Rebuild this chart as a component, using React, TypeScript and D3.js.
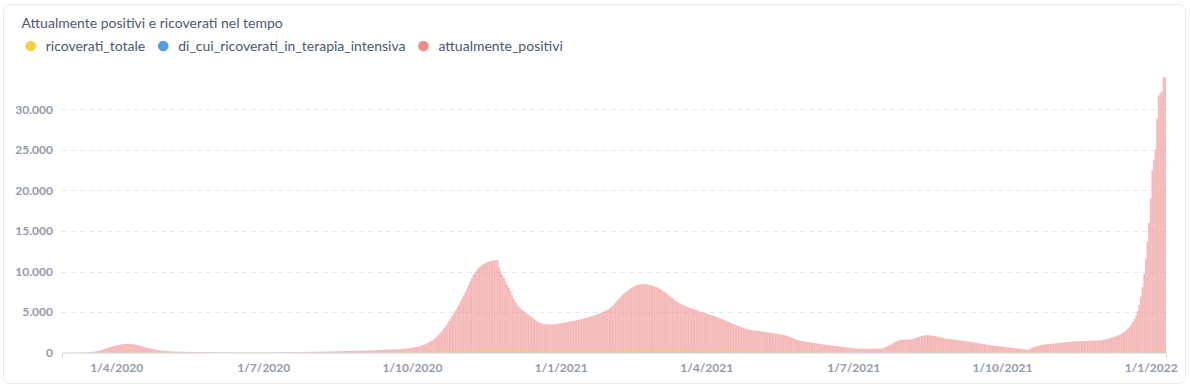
import { useEffect, useRef } from "react"
import * as d3 from "d3"

// daily series, starting on this date
const firstDay = "2020-02-28"

const positivi2020 = [
  1, 1,
  1, 1, 2, 3, 5, 8, 10, 14, 18, 24, 30, 38, 46, 55, 66, 78, 92, 110, 130, 170, 220, 280, 340, 400, 470, 540, 610, 680, 740, 800, 850,
  900, 940, 980, 1010, 1040, 1060, 1075, 1085, 1090, 1080, 1060, 1030, 990, 950, 900, 850, 790, 730, 680, 620, 570, 520, 470, 420, 380, 340, 310, 280, 255, 235,
  220, 210, 195, 185, 170, 160, 150, 140, 135, 128, 120, 115, 110, 105, 100, 98, 95, 92, 90, 88, 85, 82, 80, 78, 75, 72, 70, 68, 66, 64, 62,
  60, 58, 57, 55, 54, 52, 50, 49, 48, 47, 46, 45, 44, 43, 42, 42, 41, 40, 40, 40, 39, 39, 38, 38, 38, 37, 37, 37, 36, 36,
  36, 37, 38, 40, 42, 45, 48, 50, 52, 55, 58, 60, 62, 65, 68, 70, 72, 75, 78, 80, 82, 85, 88, 90, 92, 95, 98, 100, 102, 105, 108,
  110, 112, 115, 118, 120, 124, 131, 135, 139, 146, 150, 154, 161, 165, 170, 174, 181, 185, 190, 196, 200, 204, 211, 215, 220, 226, 230, 234, 241, 245, 250,
  255, 260, 265, 270, 275, 285, 295, 305, 315, 325, 335, 345, 355, 365, 370, 375, 380, 385, 390, 400, 410, 420, 430, 440, 455, 470, 490, 510, 540, 570,
  600, 640, 680, 720, 760, 820, 880, 950, 1030, 1120, 1220, 1330, 1450, 1580, 1730, 1900, 2100, 2320, 2550, 2800, 3050, 3320, 3600, 3900, 4200, 4520, 4850, 5200, 5550, 5900, 6280,
  6660, 7050, 7450, 7900, 8350, 8800, 9200, 9600, 9900, 10150, 10400, 10600, 10750, 10900, 11000, 11100, 11180, 11250, 11300, 11340, 11370, 11400, 11420, 10500, 10000, 9600, 9200, 8800, 8400, 8000,
  7600, 7100, 6600, 6250, 5950, 5700, 5500, 5300, 5150, 5000, 4850, 4700, 4550, 4400, 4250, 4100, 3950, 3800, 3700, 3620, 3560, 3520, 3490, 3470, 3460, 3460, 3480, 3500, 3530, 3560, 3590,
]

const positivi2021 = [
  3610, 3640, 3680, 3720, 3760, 3800, 3840, 3880, 3920, 3960, 4000, 4040, 4090, 4140, 4190, 4240, 4300, 4360, 4420, 4480, 4540, 4600, 4660, 4740, 4830, 4920, 5010, 5100, 5200, 5300, 5420,
  5580, 5760, 5950, 6150, 6380, 6620, 6850, 7060, 7250, 7420, 7580, 7740, 7880, 8000, 8110, 8230, 8320, 8380, 8420, 8440, 8450, 8440, 8420, 8390, 8350, 8300, 8240, 8170,
  8110, 8020, 7920, 7800, 7680, 7550, 7420, 7250, 7080, 6900, 6730, 6560, 6400, 6270, 6150, 6040, 5950, 5860, 5770, 5680, 5600, 5520, 5450, 5380, 5310, 5240, 5170, 5100, 5030, 4960, 4900,
  4840, 4780, 4710, 4640, 4570, 4500, 4430, 4360, 4290, 4210, 4130, 4050, 3960, 3870, 3780, 3700, 3620, 3540, 3460, 3380, 3300, 3220, 3140, 3060, 2990, 2930, 2880, 2840, 2800, 2770,
  2740, 2710, 2680, 2650, 2620, 2590, 2560, 2540, 2510, 2480, 2450, 2420, 2390, 2360, 2330, 2300, 2260, 2220, 2180, 2130, 2070, 2000, 1920, 1840, 1760, 1680, 1600, 1530, 1480, 1440, 1400,
  1370, 1340, 1310, 1280, 1250, 1220, 1190, 1160, 1130, 1100, 1070, 1040, 1010, 980, 950, 920, 895, 870, 845, 820, 795, 770, 745, 720, 695, 670, 645, 620, 600, 580,
  560, 540, 520, 505, 495, 490, 485, 480, 478, 476, 475, 475, 476, 478, 480, 485, 490, 510, 550, 610, 690, 770, 870, 980, 1100, 1220, 1330, 1420, 1500, 1560, 1590,
  1600, 1600, 1610, 1620, 1640, 1660, 1700, 1760, 1830, 1900, 1970, 2040, 2090, 2120, 2140, 2150, 2150, 2140, 2120, 2090, 2050, 2000, 1950, 1900, 1850, 1800, 1750, 1710, 1680, 1650, 1630,
  1610, 1590, 1570, 1550, 1530, 1500, 1470, 1440, 1420, 1390, 1360, 1330, 1300, 1260, 1220, 1180, 1140, 1110, 1080, 1050, 1010, 980, 950, 920, 890, 860, 840, 820, 800, 780,
  750, 720, 690, 670, 650, 630, 610, 590, 570, 545, 520, 495, 470, 440, 410, 380, 370, 420, 530, 640, 720, 780, 840, 890, 930, 970, 1000, 1030, 1050, 1070, 1090,
  1100, 1120, 1150, 1180, 1200, 1220, 1240, 1260, 1280, 1300, 1320, 1340, 1360, 1380, 1390, 1400, 1410, 1420, 1430, 1440, 1450, 1460, 1470, 1475, 1480, 1485, 1490, 1495, 1500, 1510,
  1520, 1550, 1590, 1630, 1680, 1730, 1790, 1850, 1910, 1980, 2050, 2130, 2220, 2330, 2460, 2610, 2800, 3000, 3230, 3480, 3780, 4150, 4600, 5150, 5900, 6900, 8100, 9700, 11600, 13700, 16000,
]

const positivi2022 = [19000, 22500, 23800, 25000, 28900, 31700, 32000, 32200, 34000, 33900]

const ricoverati2020 = [
  0, 0,
  0, 0, 0, 0, 1, 1, 2, 3, 4, 5, 6, 8, 10, 13, 16, 20, 25, 30, 38, 46, 55, 65, 75, 85, 95, 105, 115, 125, 135, 145, 155,
  162, 168, 172, 175, 177, 178, 178, 177, 175, 172, 168, 164, 160, 155, 150, 145, 140, 135, 130, 125, 120, 115, 110, 106, 102, 98, 94, 90, 87, 84,
  81, 78, 75, 72, 69, 66, 63, 60, 58, 56, 54, 52, 50, 48, 46, 44, 42, 40, 38, 37, 36, 35, 34, 33, 32, 31, 30, 29, 28, 27, 26,
  25, 24, 23, 22, 21, 20, 19, 18, 17, 16, 15, 15, 14, 14, 13, 13, 12, 12, 12, 11, 11, 11, 10, 10, 10, 10, 10, 10, 10, 10,
  10, 10, 11, 11, 11, 12, 12, 12, 13, 13, 13, 14, 14, 14, 15, 15, 15, 16, 16, 16, 17, 17, 17, 18, 18, 18, 19, 19, 20, 20, 21,
  21, 22, 22, 23, 23, 24, 24, 25, 25, 26, 27, 28, 29, 30, 31, 32, 33, 34, 35, 36, 37, 38, 39, 40, 41, 42, 43, 44, 45, 46, 47,
  48, 49, 50, 51, 52, 53, 54, 55, 56, 57, 58, 59, 60, 61, 62, 63, 64, 65, 66, 67, 68, 69, 70, 71, 72, 73, 74, 75, 76, 78,
  80, 83, 86, 89, 92, 95, 99, 103, 107, 111, 116, 121, 126, 131, 137, 143, 149, 155, 162, 169, 176, 183, 190, 198, 206, 214, 222, 230, 238, 246, 254,
  262, 270, 278, 286, 294, 302, 310, 318, 325, 332, 339, 346, 352, 358, 364, 369, 374, 378, 382, 385, 388, 390, 392, 393, 393, 392, 390, 388, 385, 382,
  378, 374, 370, 366, 362, 358, 354, 350, 346, 342, 338, 334, 330, 326, 322, 318, 314, 310, 307, 304, 301, 298, 296, 294, 292, 290, 289, 288, 287, 286, 286,
]

const ricoverati2021 = [
  286, 287, 288, 289, 290, 291, 292, 293, 294, 295, 296, 297, 298, 299, 300, 301, 302, 303, 304, 305, 306, 307, 308, 309, 310, 311, 312, 313, 314, 315, 316,
  318, 320, 322, 324, 326, 328, 330, 332, 334, 336, 338, 340, 342, 344, 346, 348, 350, 352, 354, 356, 358, 360, 361, 362, 363, 364, 365, 366,
  367, 368, 369, 370, 370, 370, 370, 369, 368, 367, 366, 365, 364, 362, 360, 358, 356, 354, 352, 350, 348, 346, 344, 342, 340, 338, 336, 334, 332, 330, 328,
  325, 322, 319, 316, 313, 310, 307, 304, 301, 298, 295, 292, 289, 286, 283, 280, 277, 274, 271, 268, 265, 262, 259, 256, 253, 250, 247, 244, 241, 238,
  235, 232, 229, 226, 223, 220, 217, 214, 211, 208, 205, 202, 199, 196, 193, 190, 187, 184, 181, 178, 175, 172, 169, 166, 163, 160, 157, 154, 151, 148, 145,
  142, 139, 136, 133, 130, 127, 124, 121, 118, 115, 112, 109, 106, 103, 100, 97, 94, 91, 88, 85, 82, 79, 76, 73, 70, 68, 66, 64, 62, 60,
  58, 56, 55, 54, 53, 52, 51, 50, 50, 50, 50, 50, 51, 52, 53, 54, 55, 57, 59, 62, 65, 69, 73, 78, 83, 88, 94, 100, 106, 112, 118,
  124, 130, 136, 142, 148, 154, 160, 166, 172, 178, 184, 190, 195, 200, 204, 208, 211, 214, 216, 218, 219, 220, 220, 219, 218, 216, 214, 212, 210, 208, 206,
  204, 202, 200, 198, 196, 194, 192, 190, 188, 186, 184, 182, 180, 178, 176, 174, 172, 170, 168, 166, 164, 162, 160, 158, 156, 154, 152, 150, 148, 146,
  144, 142, 140, 138, 136, 134, 132, 130, 128, 126, 124, 122, 120, 118, 116, 114, 112, 110, 108, 106, 104, 102, 100, 99, 98, 97, 96, 95, 94, 93, 92,
  92, 92, 93, 93, 94, 95, 96, 97, 98, 99, 100, 101, 102, 103, 104, 105, 106, 107, 108, 109, 110, 111, 112, 113, 114, 115, 116, 117, 118, 119,
  120, 121, 122, 123, 124, 125, 126, 127, 128, 130, 132, 134, 136, 138, 140, 143, 146, 149, 152, 156, 160, 165, 170, 176, 182, 189, 196, 204, 212, 221, 230,
]

const ricoverati2022 = [240, 250, 261, 272, 283, 294, 305, 316, 327, 338]

const intensiva2020 = [
  0, 0,
  0, 0, 0, 0, 0, 0, 0, 1, 1, 1, 2, 2, 3, 3, 4, 5, 6, 7, 8, 9, 10, 11, 12, 13, 14, 15, 16, 17, 18, 19, 19,
  20, 20, 20, 19, 19, 19, 18, 18, 17, 17, 16, 16, 15, 15, 14, 14, 13, 13, 12, 12, 11, 11, 10, 10, 9, 9, 8, 8, 7, 7,
  7, 6, 6, 6, 5, 5, 5, 5, 4, 4, 4, 4, 3, 3, 3, 3, 3, 2, 2, 2, 2, 2, 2, 2, 1, 1, 1, 1, 1, 1, 1,
  1, 1, 1, 1, 1, 1, 1, 1, 1, 1, 1, 1, 1, 1, 1, 0, 0, 0, 0, 0, 0, 0, 0, 0, 0, 0, 0, 0, 0, 0,
  0, 0, 0, 0, 0, 0, 0, 0, 0, 0, 1, 1, 1, 1, 1, 1, 1, 1, 1, 1, 1, 1, 1, 1, 1, 1, 1, 1, 1, 1, 1,
  1, 1, 1, 1, 1, 1, 1, 1, 1, 1, 2, 2, 2, 2, 2, 2, 2, 2, 2, 2, 3, 3, 3, 3, 3, 3, 3, 3, 3, 3, 3,
  3, 3, 3, 3, 4, 4, 4, 4, 4, 4, 4, 5, 5, 5, 5, 5, 5, 5, 5, 6, 6, 6, 6, 6, 6, 6, 6, 7, 7, 7,
  7, 7, 8, 8, 8, 9, 9, 9, 10, 10, 11, 11, 12, 12, 13, 13, 14, 14, 15, 16, 17, 18, 19, 20, 21, 22, 23, 24, 25, 26, 27,
  28, 29, 30, 31, 32, 33, 34, 35, 36, 37, 38, 39, 40, 40, 41, 41, 42, 42, 42, 42, 42, 42, 41, 41, 40, 40, 39, 39, 38, 38,
  37, 37, 36, 36, 35, 35, 34, 34, 33, 33, 32, 32, 31, 31, 31, 30, 30, 30, 29, 29, 29, 28, 28, 28, 28, 27, 27, 27, 27, 27, 27,
]

const intensiva2021 = [
  27, 27, 27, 27, 27, 27, 27, 27, 26, 26, 26, 26, 26, 26, 26, 26, 26, 26, 26, 26, 26, 26, 26, 26, 26, 27, 27, 27, 27, 27, 28,
  28, 28, 29, 29, 29, 30, 30, 30, 31, 31, 31, 32, 32, 32, 33, 33, 33, 34, 34, 34, 35, 35, 35, 35, 36, 36, 36, 36,
  37, 37, 37, 37, 37, 38, 38, 38, 38, 38, 38, 38, 38, 38, 38, 38, 38, 38, 38, 37, 37, 37, 37, 37, 37, 36, 36, 36, 36, 36, 35,
  35, 35, 35, 34, 34, 34, 34, 33, 33, 33, 33, 32, 32, 32, 32, 31, 31, 31, 31, 30, 30, 30, 30, 29, 29, 29, 29, 28, 28, 28,
  28, 27, 27, 27, 27, 26, 26, 26, 26, 25, 25, 25, 25, 24, 24, 24, 24, 23, 23, 23, 23, 22, 22, 22, 22, 21, 21, 21, 21, 20, 20,
  20, 19, 19, 18, 18, 17, 17, 16, 16, 15, 15, 14, 14, 13, 13, 12, 12, 12, 11, 11, 11, 10, 10, 10, 9, 9, 9, 8, 8, 8,
  8, 8, 7, 7, 7, 7, 7, 6, 6, 6, 6, 6, 6, 6, 6, 6, 6, 7, 7, 7, 7, 8, 8, 8, 9, 9, 10, 10, 11, 11, 12,
  12, 13, 13, 14, 14, 15, 15, 16, 16, 17, 17, 18, 18, 19, 19, 20, 20, 20, 21, 21, 21, 21, 22, 22, 22, 22, 22, 22, 22, 21, 21,
  21, 21, 21, 21, 20, 20, 20, 20, 20, 19, 19, 19, 19, 19, 18, 18, 18, 18, 17, 17, 17, 17, 16, 16, 16, 16, 15, 15, 15, 15,
  14, 14, 14, 14, 13, 13, 13, 13, 12, 12, 12, 12, 11, 11, 11, 11, 10, 10, 10, 10, 9, 9, 9, 9, 9, 9, 9, 9, 9, 9, 9,
  9, 9, 9, 9, 9, 9, 10, 10, 10, 10, 10, 10, 10, 10, 11, 11, 11, 11, 11, 11, 11, 11, 12, 12, 12, 12, 12, 12, 12, 12,
  12, 12, 13, 13, 13, 13, 13, 14, 14, 14, 14, 14, 15, 15, 15, 15, 16, 16, 16, 17, 17, 17, 18, 18, 18, 19, 19, 20, 20, 21, 21,
]

const intensiva2022 = [22, 23, 24, 25, 26, 27, 28, 29, 30, 31]

const xTickDates = ["2020-04-01", "2020-07-01", "2020-10-01", "2021-01-01", "2021-04-01", "2021-07-01", "2021-10-01", "2022-01-01"]
const yTicks = [0, 5000, 10000, 15000, 20000, 25000, 30000]

const title = "Attualmente positivi e ricoverati nel tempo"
const seriesNames = ["ricoverati_totale", "di_cui_ricoverati_in_terapia_intensiva", "attualmente_positivi"]
const seriesColors = ["#F9CF48", "#509EE3", "#EF8C8C"]

const W = 1190
const H = 388
const FONT = "Lato, 'Noto Sans', sans-serif"

export default function App() {
  const svgRef = useRef<SVGSVGElement>(null)

  useEffect(() => {
    if (!svgRef.current) return
    const root = d3.select(svgRef.current)
    root.selectAll("*").remove()

    const parse = d3.utcParse("%Y-%m-%d")
    const start = parse(firstDay) as Date
    const positivi = [...positivi2020, ...positivi2021, ...positivi2022]
    const ricoverati = [...ricoverati2020, ...ricoverati2021, ...ricoverati2022]
    const intensiva = [...intensiva2020, ...intensiva2021, ...intensiva2022]
    const days = positivi.map((_, i) => d3.utcDay.offset(start, i))

    const x = d3
      .scaleUtc()
      .domain([d3.utcHour.offset(days[0], -12), d3.utcHour.offset(days[days.length - 1], 12)])
      .range([62, 1166])
    const y = d3.scaleLinear().domain([0, 30000]).range([352.7, 109.3])

    const it = d3.formatLocale({ decimal: ",", thousands: ".", grouping: [3], currency: ["€", ""] })
    const fmtY = it.format(",d")

    // card
    root
      .append("rect")
      .attr("x", 3.5)
      .attr("y", 4.5)
      .attr("width", W - 8)
      .attr("height", H - 9)
      .attr("rx", 7)
      .attr("fill", "#fff")
      .attr("stroke", "#E8EBEE")

    // title
    root
      .append("text")
      .attr("x", 21.5)
      .attr("y", 28)
      .attr("font-family", FONT)
      .attr("font-size", 14)
      .attr("fill", "#4C5773")
      .text(title)

    // legend
    const legend = root.append("g").attr("font-family", FONT).attr("font-size", 14).attr("fill", "#4C5773")
    let cx = 30.7
    seriesNames.forEach((name, i) => {
      legend.append("circle").attr("cx", cx).attr("cy", 46).attr("r", 5.3).attr("fill", seriesColors[i])
      const t = legend
        .append("text")
        .attr("x", cx + 15)
        .attr("y", 51)
        .text(name)
      const w = (t.node() as SVGTextElement).getComputedTextLength()
      cx = cx + 15 + w + 18
    })

    // grid
    root
      .append("g")
      .selectAll("line")
      .data(yTicks.filter((v) => v > 0))
      .enter()
      .append("line")
      .attr("x1", 62)
      .attr("x2", 1166)
      .attr("y1", (d) => Math.round(y(d)) + 0.5)
      .attr("y2", (d) => Math.round(y(d)) + 0.5)
      .attr("stroke", "#E6E9EC")
      .attr("stroke-dasharray", "5 4")

    // bars: attualmente_positivi first, then the hospital series over it
    const drawBars = (values: number[], color: string, opacity: number) => {
      root
        .append("g")
        .selectAll("rect")
        .data(values)
        .enter()
        .append("rect")
        .attr("x", (_, i) => x(d3.utcHour.offset(days[i], -12)))
        .attr("width", (_, i) => x(d3.utcHour.offset(days[i], 12)) - x(d3.utcHour.offset(days[i], -12)))
        .attr("y", (d) => y(d))
        .attr("height", (d) => y(0) - y(d))
        .attr("fill", color)
        .attr("fill-opacity", opacity)
    }
    drawBars(positivi, seriesColors[2], 0.62)
    drawBars(ricoverati, seriesColors[0], 0.45)
    drawBars(intensiva, seriesColors[1], 0.45)

    // x axis
    const xAxis = root
      .append("g")
      .attr("transform", "translate(0,352.5)")
      .call(
        d3
          .axisBottom(x)
          .tickValues(xTickDates.map((s) => parse(s) as Date))
          .tickFormat((d) => d3.utcFormat("%-d/%-m/%Y")(d as Date))
          .tickSizeInner(0)
          .tickSizeOuter(5)
          .tickPadding(10.5)
      )
    xAxis.select(".domain").attr("stroke", "#CFD3D9")
    xAxis
      .selectAll("text")
      .attr("font-family", FONT)
      .attr("font-size", 12)
      .attr("font-weight", 700)
      .attr("fill", "#949AAB")

    // y labels
    root
      .append("g")
      .selectAll("text")
      .data(yTicks)
      .enter()
      .append("text")
      .attr("x", 53)
      .attr("y", (d) => y(d))
      .attr("dy", "0.35em")
      .attr("text-anchor", "end")
      .attr("font-family", FONT)
      .attr("font-size", 12)
      .attr("font-weight", 700)
      .attr("fill", "#949AAB")
      .text((d) => fmtY(d))
  }, [])

  return (
    <div style={{ position: "fixed", left: 0, top: 0, width: W, height: H, background: "#fff" }}>
      <svg ref={svgRef} width={W} height={H} style={{ display: "block" }}></svg>
    </div>
  )
}
